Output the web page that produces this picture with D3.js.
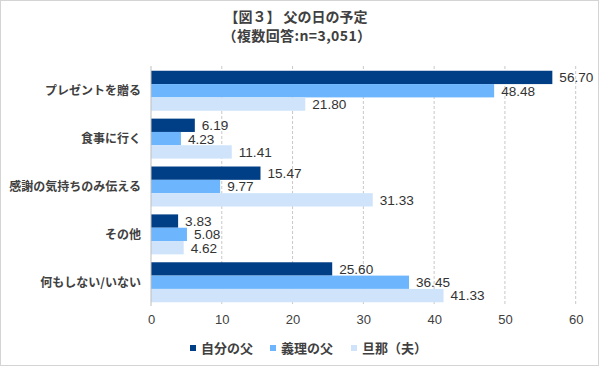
<!DOCTYPE html>
<html><head><meta charset="utf-8">
<script src="https://cdn.jsdelivr.net/npm/d3@7"></script>
<style>body{margin:0;background:#fff}svg{display:block}</style>
</head><body>
<svg id="c" width="600" height="367"></svg>
<script>
const categories = ["プレゼントを贈る","食事に行く","感謝の気持ちのみ伝える","その他","何もしない/いない"];
const seriesNames = ["自分の父","義理の父","旦那（夫）"];
const ownFather = [56.70, 6.19, 15.47, 3.83, 25.60];
const inLawFather = [48.48, 4.23, 9.77, 5.08, 36.45];
const husband = [21.80, 11.41, 31.33, 4.62, 41.33];
const tickValues = [0,10,20,30,40,50,60];
const colors = ["#003e86","#6db6fd","#cfe4fb"];
const series = [ownFather, inLawFather, husband];

const svg = d3.select("#c");
const jp = "'Noto Sans CJK JP','Noto Sans',sans-serif";
const num = "'Liberation Sans',Arial,sans-serif";

svg.append("rect").attr("x",0.5).attr("y",0.5).attr("width",598).attr("height",365)
  .attr("fill","#fff").attr("stroke","#d4d4d4");

svg.append("text").attr("x",296).attr("y",22).attr("text-anchor","middle")
  .attr("font-family",jp).attr("font-weight","bold").attr("font-size",14).attr("fill","#404040")
  .text("【図３】 父の日の予定");
svg.append("text").attr("x",297).attr("y",41).attr("text-anchor","middle")
  .attr("font-family",jp).attr("font-weight","bold").attr("font-size",14).attr("letter-spacing",0.4).attr("fill","#404040")
  .text("（複数回答:n=3,051）");

const x = d3.scaleLinear().domain([0,60]).range([151,575.7]);
const y = d3.scaleBand().domain(categories).range([66.8,306.2]).paddingInner(0.165).paddingOuter(0.0825);
const ySub = d3.scaleBand().domain([0,1,2]).range([0,y.bandwidth()]);

// gridlines
svg.append("g").selectAll("line").data(tickValues.slice(1)).join("line")
  .attr("x1",d=>x(d)).attr("x2",d=>x(d)).attr("y1",66).attr("y2",306)
  .attr("stroke","#c8c8c8").attr("stroke-dasharray","3,2");

// bars
const g = svg.append("g");
series.forEach((vals,si)=>{
  g.append("g").selectAll("rect").data(vals).join("rect")
    .attr("x",x(0)).attr("y",(d,i)=>y(categories[i])+ySub(si))
    .attr("width",d=>x(d)-x(0)).attr("height",ySub.bandwidth())
    .attr("fill",colors[si]);
  g.append("g").selectAll("text").data(vals).join("text")
    .attr("x",d=>x(d)+7).attr("y",(d,i)=>y(categories[i])+ySub(si)+ySub.bandwidth()/2)
    .attr("dy","0.36em").attr("font-family",num).attr("font-size",13.6).attr("fill","#333")
    .text(d=>d.toFixed(2));
});

// y axis line
svg.append("line").attr("x1",x(0)).attr("x2",x(0)).attr("y1",66).attr("y2",306)
  .attr("stroke","#bdbdbd");

// category labels
svg.append("g").selectAll("text").data(categories).join("text")
  .attr("x",141).attr("y",d=>y(d)+y.bandwidth()/2).attr("dy","0.36em")
  .attr("text-anchor","end").attr("font-family",jp).attr("font-weight","bold")
  .attr("font-size",12).attr("fill","#404040").text(d=>d);

// x axis
const xAxis = svg.append("g").attr("transform","translate(0,306)")
  .call(d3.axisBottom(x).tickValues(tickValues).tickSize(0).tickPadding(9));
xAxis.select(".domain").remove();
xAxis.selectAll("text").attr("font-family",num).attr("font-size",13).attr("fill","#404040");

// legend
const legX = [190,270,351];
const leg = svg.append("g");
seriesNames.forEach((n,i)=>{
  leg.append("rect").attr("x",legX[i]).attr("y",345).attr("width",6).attr("height",6).attr("fill",colors[i]);
  leg.append("text").attr("x",legX[i]+11).attr("y",348).attr("dy","0.36em")
    .attr("font-family",jp).attr("font-weight","bold").attr("font-size",13).attr("fill","#404040").text(n);
});
</script>
</body></html>
